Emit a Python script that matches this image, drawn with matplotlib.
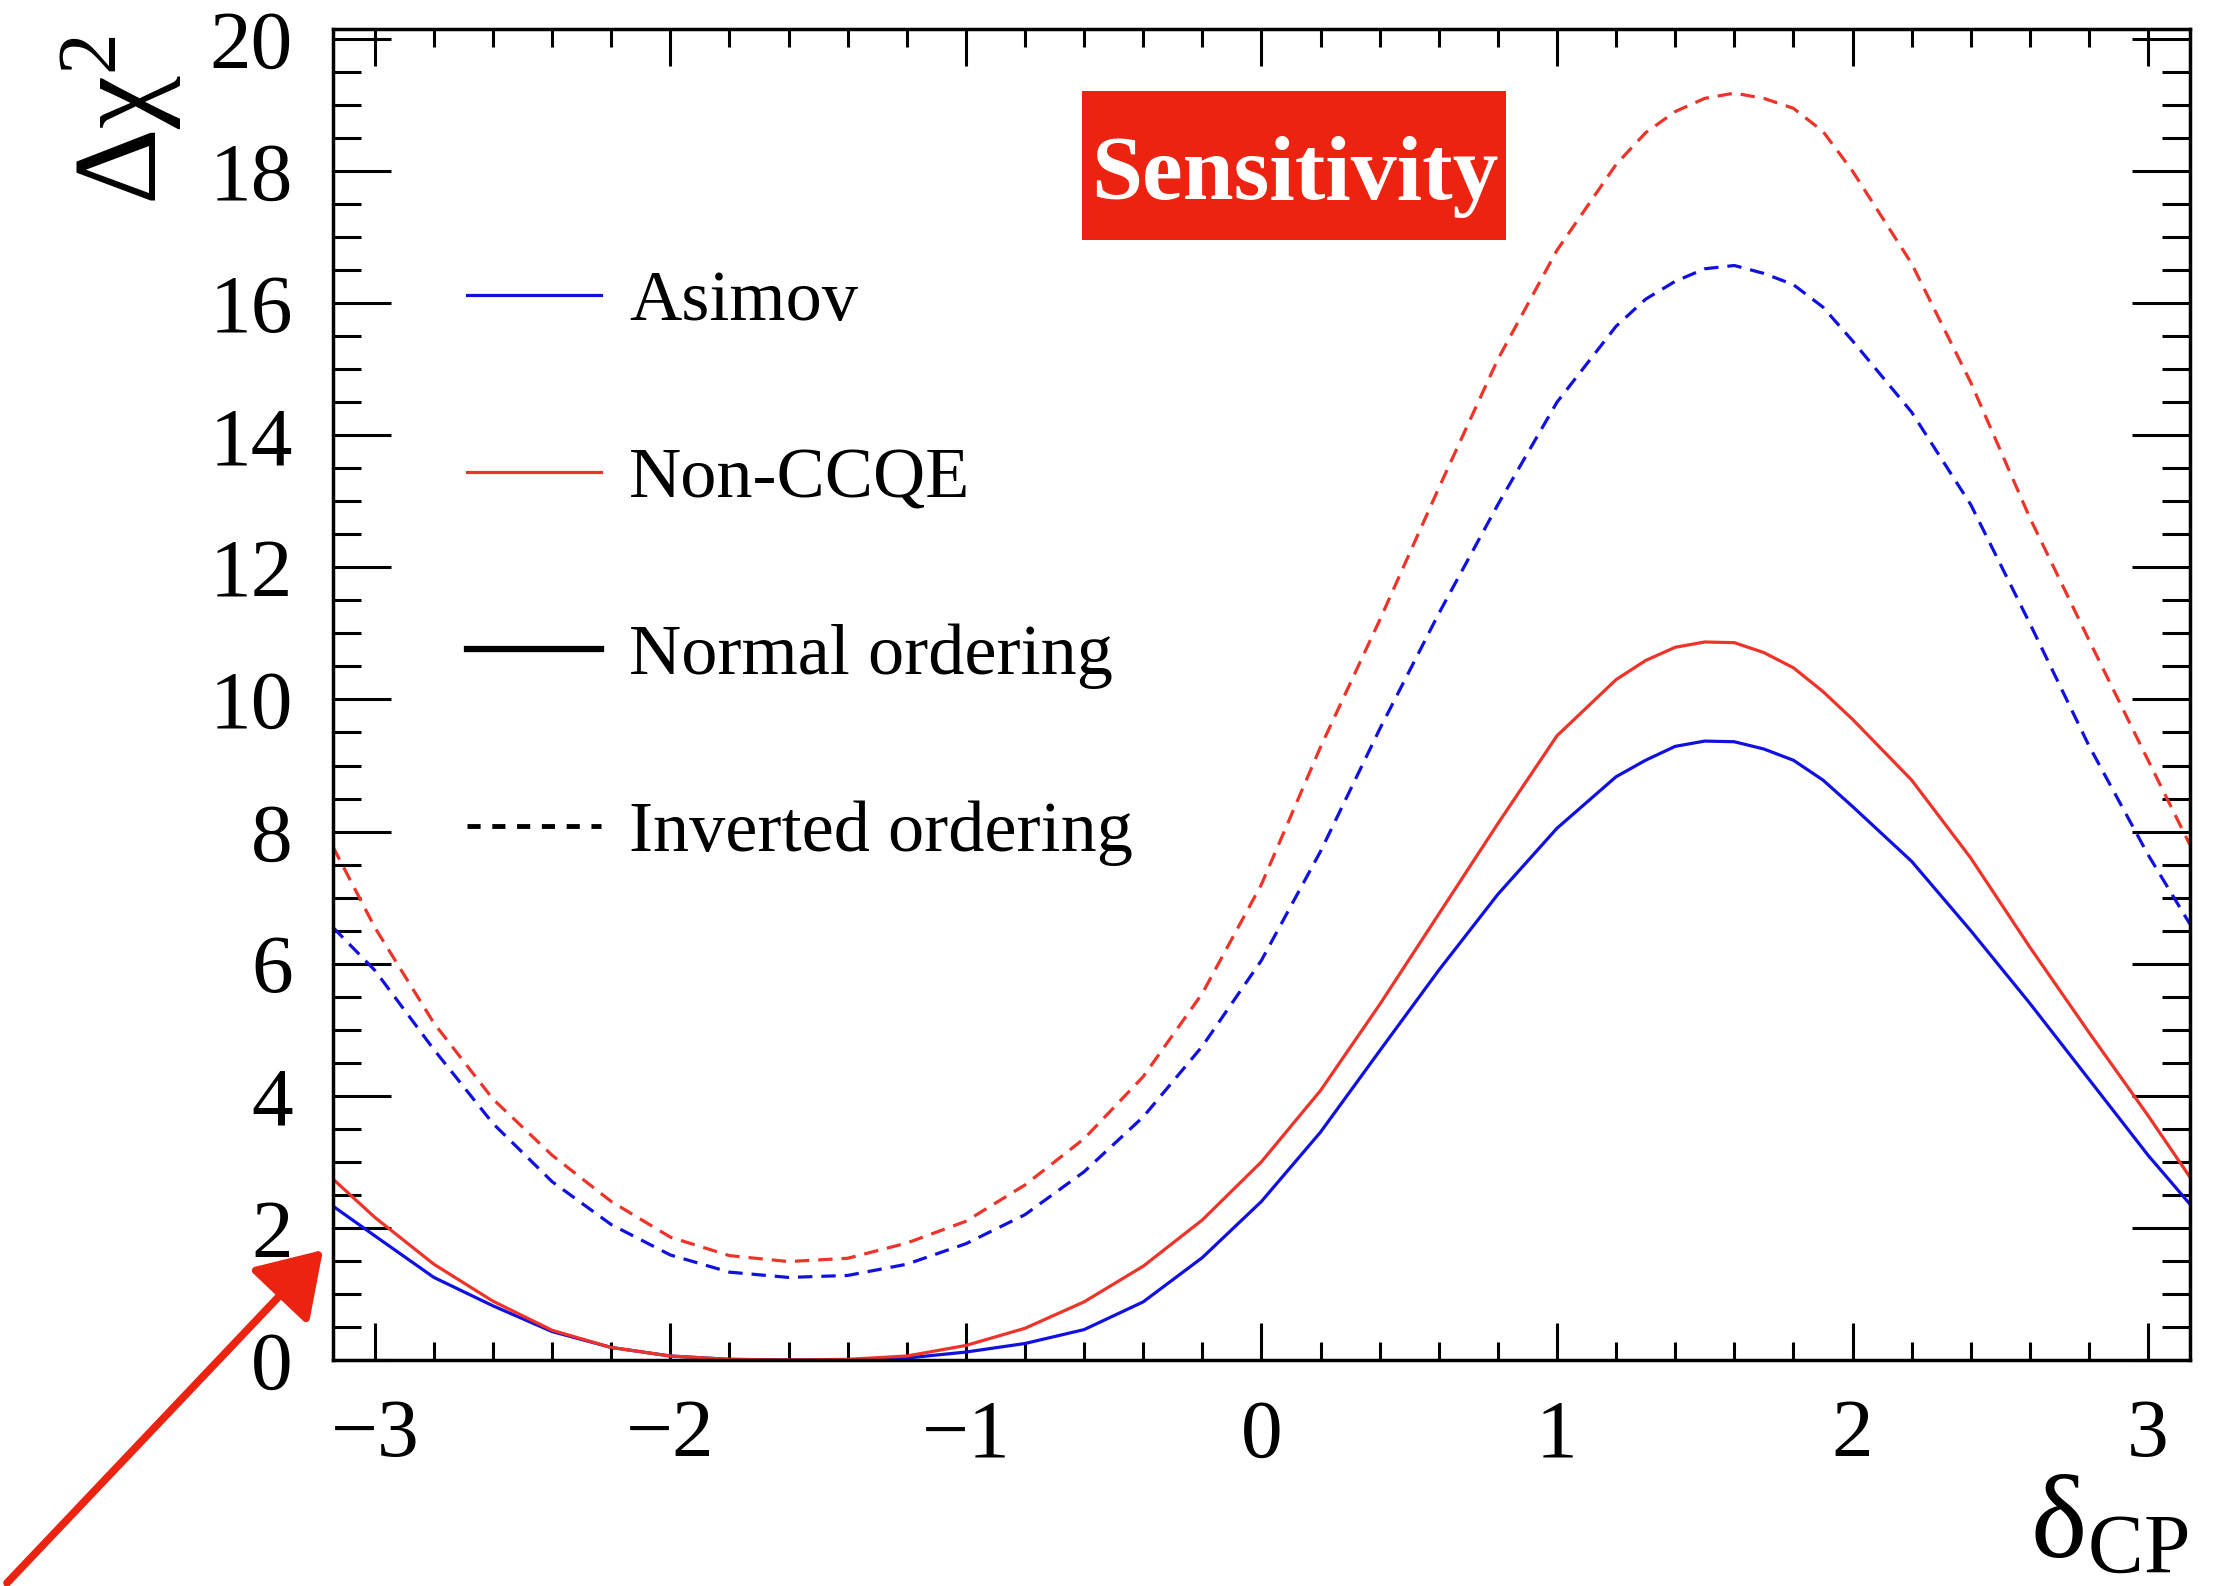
import matplotlib
matplotlib.use('Agg')
import matplotlib.pyplot as plt
from matplotlib.lines import Line2D
from matplotlib.patches import Rectangle, FancyArrowPatch
from matplotlib.ticker import MultipleLocator

plt.rcParams['font.family'] = ['Liberation Serif', 'DejaVu Serif']
plt.rcParams['mathtext.fontset'] = 'custom'
plt.rcParams['mathtext.rm'] = 'Liberation Serif'
plt.rcParams['mathtext.it'] = 'Liberation Serif:italic'
plt.rcParams['mathtext.bf'] = 'Liberation Serif:bold'

# ---------------- data ----------------
delta_cp = [-3.1416, -3.0, -2.8, -2.6, -2.4, -2.2, -2.0, -1.8, -1.6, -1.4, -1.2,
            -1.0, -0.8, -0.6, -0.4, -0.2, 0.0, 0.2, 0.4, 0.6, 0.8, 1.0,
            1.2, 1.3, 1.4, 1.5, 1.6, 1.7, 1.8, 1.9, 2.0, 2.2, 2.4, 2.6, 2.8, 3.0, 3.1416]

asimov_no = [2.33, 1.88, 1.25, 0.82, 0.43, 0.19, 0.06, 0.01, 0.0, 0.0, 0.03,
             0.12, 0.25, 0.46, 0.88, 1.55, 2.40, 3.45, 4.68, 5.90, 7.05, 8.05,
             8.83, 9.08, 9.29, 9.37, 9.36, 9.25, 9.08, 8.78, 8.38, 7.55, 6.50, 5.40, 4.25, 3.10, 2.36]

nonccqe_no = [2.74, 2.16, 1.45, 0.89, 0.45, 0.19, 0.06, 0.01, 0.0, 0.01, 0.06,
              0.22, 0.48, 0.88, 1.42, 2.12, 3.00, 4.08, 5.38, 6.75, 8.12, 9.45,
              10.30, 10.59, 10.79, 10.87, 10.86, 10.71, 10.48, 10.12, 9.70, 8.78, 7.60, 6.25, 4.96, 3.70, 2.77]

asimov_io = [6.55, 5.90, 4.70, 3.58, 2.70, 2.05, 1.59, 1.33, 1.25, 1.28, 1.45,
             1.76, 2.20, 2.85, 3.68, 4.75, 6.05, 7.70, 9.55, 11.30, 12.95, 14.50,
             15.65, 16.06, 16.33, 16.52, 16.57, 16.45, 16.28, 15.94, 15.43, 14.35, 12.95, 11.15, 9.30, 7.65, 6.60]

nonccqe_io = [7.77, 6.55, 5.10, 3.95, 3.10, 2.40, 1.86, 1.58, 1.49, 1.54, 1.77,
              2.10, 2.65, 3.35, 4.29, 5.55, 7.20, 9.28, 11.20, 13.20, 15.15, 16.80,
              18.10, 18.58, 18.90, 19.10, 19.18, 19.10, 18.95, 18.60, 18.00, 16.60, 14.80, 12.75, 10.90, 9.08, 7.80]

legend_labels = ['Asimov', 'Non-CCQE', 'Normal ordering', 'Inverted ordering']
x_label = r'$\mathrm{δ}_{\mathrm{CP}}$'
y_label = r'$\mathrm{Δχ}^{2}$'
badge_text = 'Sensitivity'

# ---------------- styling ----------------
BLUE = '#1010e0'
RED = '#ee3329'
BADGE = '#ec2310'
LW = 2.3
DASH = (0, (4.5, 2.8))

fig = plt.figure(figsize=(22.33, 15.86), dpi=100)
ax = fig.add_axes([0.1491, 0.1425, 0.9807 - 0.1491, 0.9817 - 0.1425])

ax.plot(delta_cp, asimov_no, color=BLUE, lw=LW)
ax.plot(delta_cp, nonccqe_no, color=RED, lw=LW)
ax.plot(delta_cp, asimov_io, color=BLUE, lw=LW, ls=DASH)
ax.plot(delta_cp, nonccqe_io, color=RED, lw=LW, ls=DASH)

ax.set_xlim(-3.1416, 3.1416)
ax.set_ylim(0, 20.15)
ax.xaxis.set_major_locator(MultipleLocator(1))
ax.xaxis.set_minor_locator(MultipleLocator(0.2))
ax.yaxis.set_major_locator(MultipleLocator(2))
ax.yaxis.set_minor_locator(MultipleLocator(0.5))

for s in ax.spines.values():
    s.set_linewidth(2.5)
ax.tick_params(which='both', direction='in', top=True, right=True, width=2.2,
               labelsize=60)
ax.tick_params(axis='x', which='major', length=26.6, pad=28)
ax.tick_params(axis='x', which='minor', length=13)
ax.tick_params(axis='y', which='major', length=41.8, pad=29)
ax.tick_params(axis='y', which='minor', length=20)

# legend
handles = [Line2D([], [], color=BLUE, lw=LW),
           Line2D([], [], color=RED, lw=LW),
           Line2D([], [], color='black', lw=4.5),
           Line2D([], [], color='black', lw=3.5, ls=(0, (2.7, 2.4)))]
ax.legend(handles, legend_labels, loc='upper left', bbox_to_anchor=(0.0722, 0.819),
          frameon=False, borderpad=0, borderaxespad=0, handlelength=1.85,
          handletextpad=0.39, labelspacing=1.54,
          prop={'family': 'Liberation Serif', 'size': 52})

# axis titles (ROOT style placement)
fig.text(0.0547, 1 - 35 / 1586, y_label, rotation=90, ha='center', va='top', fontsize=86)
fig.text(2188 / 2233, 4 / 1586, x_label, ha='right', va='bottom', fontsize=86)

# badge
fig.add_artist(Rectangle((1082 / 2233, 1 - 240 / 1586), 424 / 2233, 149 / 1586,
                         transform=fig.transFigure, facecolor=BADGE, edgecolor='none'))
fig.text(1295 / 2233, 1 - 177 / 1586, badge_text, color='white', fontweight='bold',
         fontsize=66, ha='center', va='center', family='Liberation Serif')

# hand-drawn style arrow
fig.add_artist(FancyArrowPatch((7 / 2233, 1 - 1583 / 1586), (323 / 2233, 1 - 1250 / 1586),
                               transform=fig.transFigure,
                               arrowstyle='-|>,head_length=39,head_width=25',
                               mutation_scale=1, lw=5.5, color=BADGE,
                               shrinkA=0, shrinkB=0))

fig.savefig('out.png', dpi=100)
